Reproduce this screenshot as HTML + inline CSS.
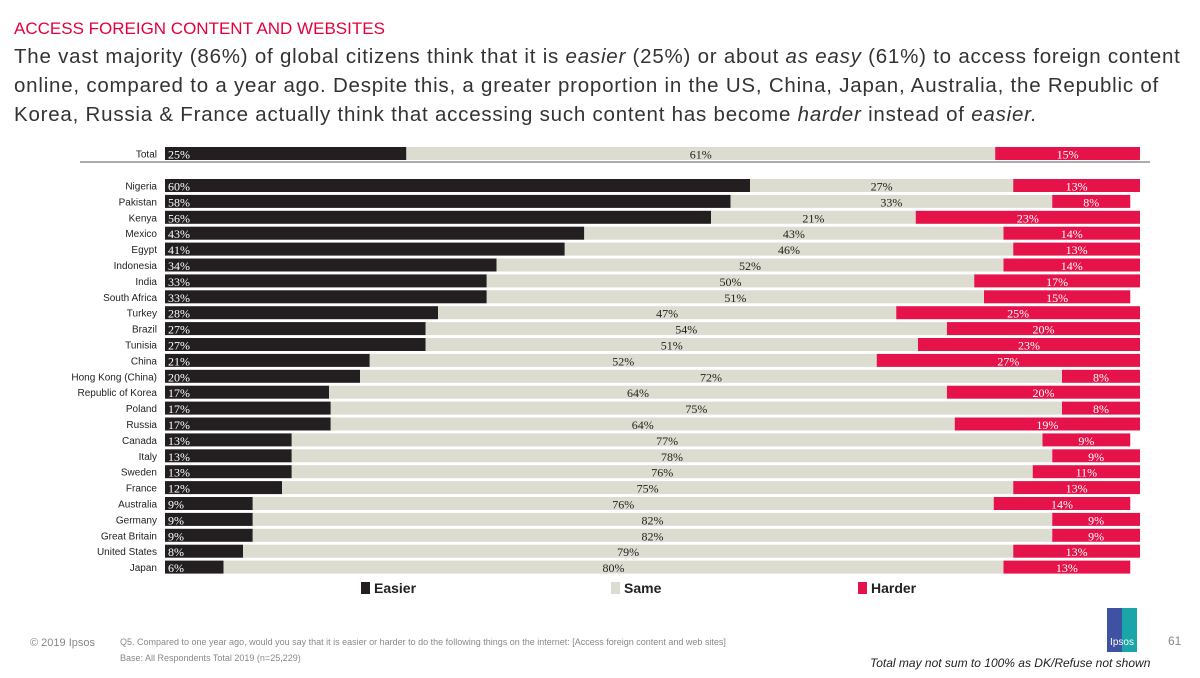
<!DOCTYPE html>
<html><head><meta charset="utf-8"><style>
body{margin:0;width:1200px;height:675px;background:#fff;font-family:"Liberation Sans",sans-serif;position:relative;overflow:hidden}
.t1{position:absolute;left:14px;top:19px;color:#e4003b;font-size:17px}
.t2{position:absolute;left:14px;top:42px;width:1190px;color:#333;font-size:20.5px;line-height:29px;letter-spacing:0.78px;white-space:nowrap}
svg{position:absolute;left:0;top:0}
.foot{position:absolute;color:#888;font-size:9px}
</style></head><body>
<div class="t1">ACCESS FOREIGN CONTENT AND WEBSITES</div>
<div class="t2">The vast majority (86%) of global citizens think that it is <i>easier</i> (25%) or about <i>as easy</i> (61%) to access foreign content<br>online, compared to a year ago. Despite this, a greater proportion in the US, China, Japan, Australia, the Republic of<br>Korea, Russia &amp; France actually think that accessing such content has become <i>harder</i> instead of <i>easier.</i></div>
<svg id="chart" width="1200" height="675"></svg>
<div class="foot" style="left:30px;top:637px;font-size:11px">© 2019 Ipsos</div>
<div class="foot" style="left:120px;top:637px">Q5. Compared to one year ago, would you say that it is easier or harder to do the following things on the internet: [Access foreign content and web sites]</div>
<div class="foot" style="left:120px;top:653px">Base: All Respondents Total 2019 (n=25,229)</div>
<div style="position:absolute;left:1107px;top:608px;width:30px;height:44px;background:linear-gradient(90deg,#3f51a3 50%,#1aa5a8 50%);color:#fff;font-size:10px;text-align:center;line-height:70px">Ipsos</div>
<div class="foot" style="left:1168px;top:634px;font-size:12px">61</div>
<div style="position:absolute;left:870px;top:656px;font-size:12px;font-style:italic;color:#222">Total may not sum to 100% as DK/Refuse not shown</div>
<script>
const categories=["Total","Nigeria","Pakistan","Kenya","Mexico","Egypt","Indonesia","India","South Africa","Turkey","Brazil","Tunisia","China","Hong Kong (China)","Republic of Korea","Poland","Russia","Canada","Italy","Sweden","France","Australia","Germany","Great Britain","United States","Japan"];
const easier=[25,60,58,56,43,41,34,33,33,28,27,27,21,20,17,17,17,13,13,13,12,9,9,9,8,6];
const same=[61,27,33,21,43,46,52,50,51,47,54,51,52,72,64,75,64,77,78,76,75,76,82,82,79,80];
const harder=[15,13,8,23,14,13,14,17,15,25,20,23,27,8,20,8,19,9,9,11,13,14,9,9,13,13];
const seriesNames=["Easier","Same","Harder"];
const colors=["#231f20","#dddcd1","#e6134a"];
const svg=document.getElementById('chart');const NS="http://www.w3.org/2000/svg";
const x0=165,k=9.75;
const xs=v=>x0+v*k;
const yc=i=>i===0?153.5:185.5+(i-1)*15.9;
function mk(t,a){const e=document.createElementNS(NS,t);for(const n in a)e.setAttribute(n,a[n]);svg.appendChild(e);return e;}
const ln=mk('line',{x1:80,x2:1150,y1:162,y2:162,stroke:'#222','stroke-width':0.8});


categories.forEach((c,i)=>{
 const y=yc(i);
 const lb=mk('text',{x:157,y:y+4,'text-anchor':'end','font-size':10,fill:'#222'});lb.textContent=c;
 
 
 const vals=[easier[i],same[i],harder[i]];
 const sum=vals[0]+vals[1]+vals[2];const f=sum>100?100/sum:1;
 let acc=0;
 vals.forEach((v,s)=>{
  const w=v*f;
  const r=mk('rect',{x:xs(acc),y:y-6.5,width:w*k,height:13,fill:colors[s]});
  
  
  const tx=s===0?xs(acc)+3:xs(acc+w/2);
  const t=mk('text',{x:tx,y:y+5,'text-anchor':s===0?'start':'middle','font-size':12,fill:s===1?'#222':'#fff','font-family':'Liberation Serif, serif'});
  t.textContent=v+'%';
  
  
  acc+=w;
 });
});
const lx=[361,611,858];
seriesNames.forEach((n,s)=>{
 const r=mk('rect',{x:lx[s],y:582,width:9,height:12,fill:colors[s]});
 
 
 const t=mk('text',{x:lx[s]+13,y:593,'font-size':14,'font-weight':'bold',fill:'#222'});t.textContent=n;
 
 
});
</script>
</body></html>
